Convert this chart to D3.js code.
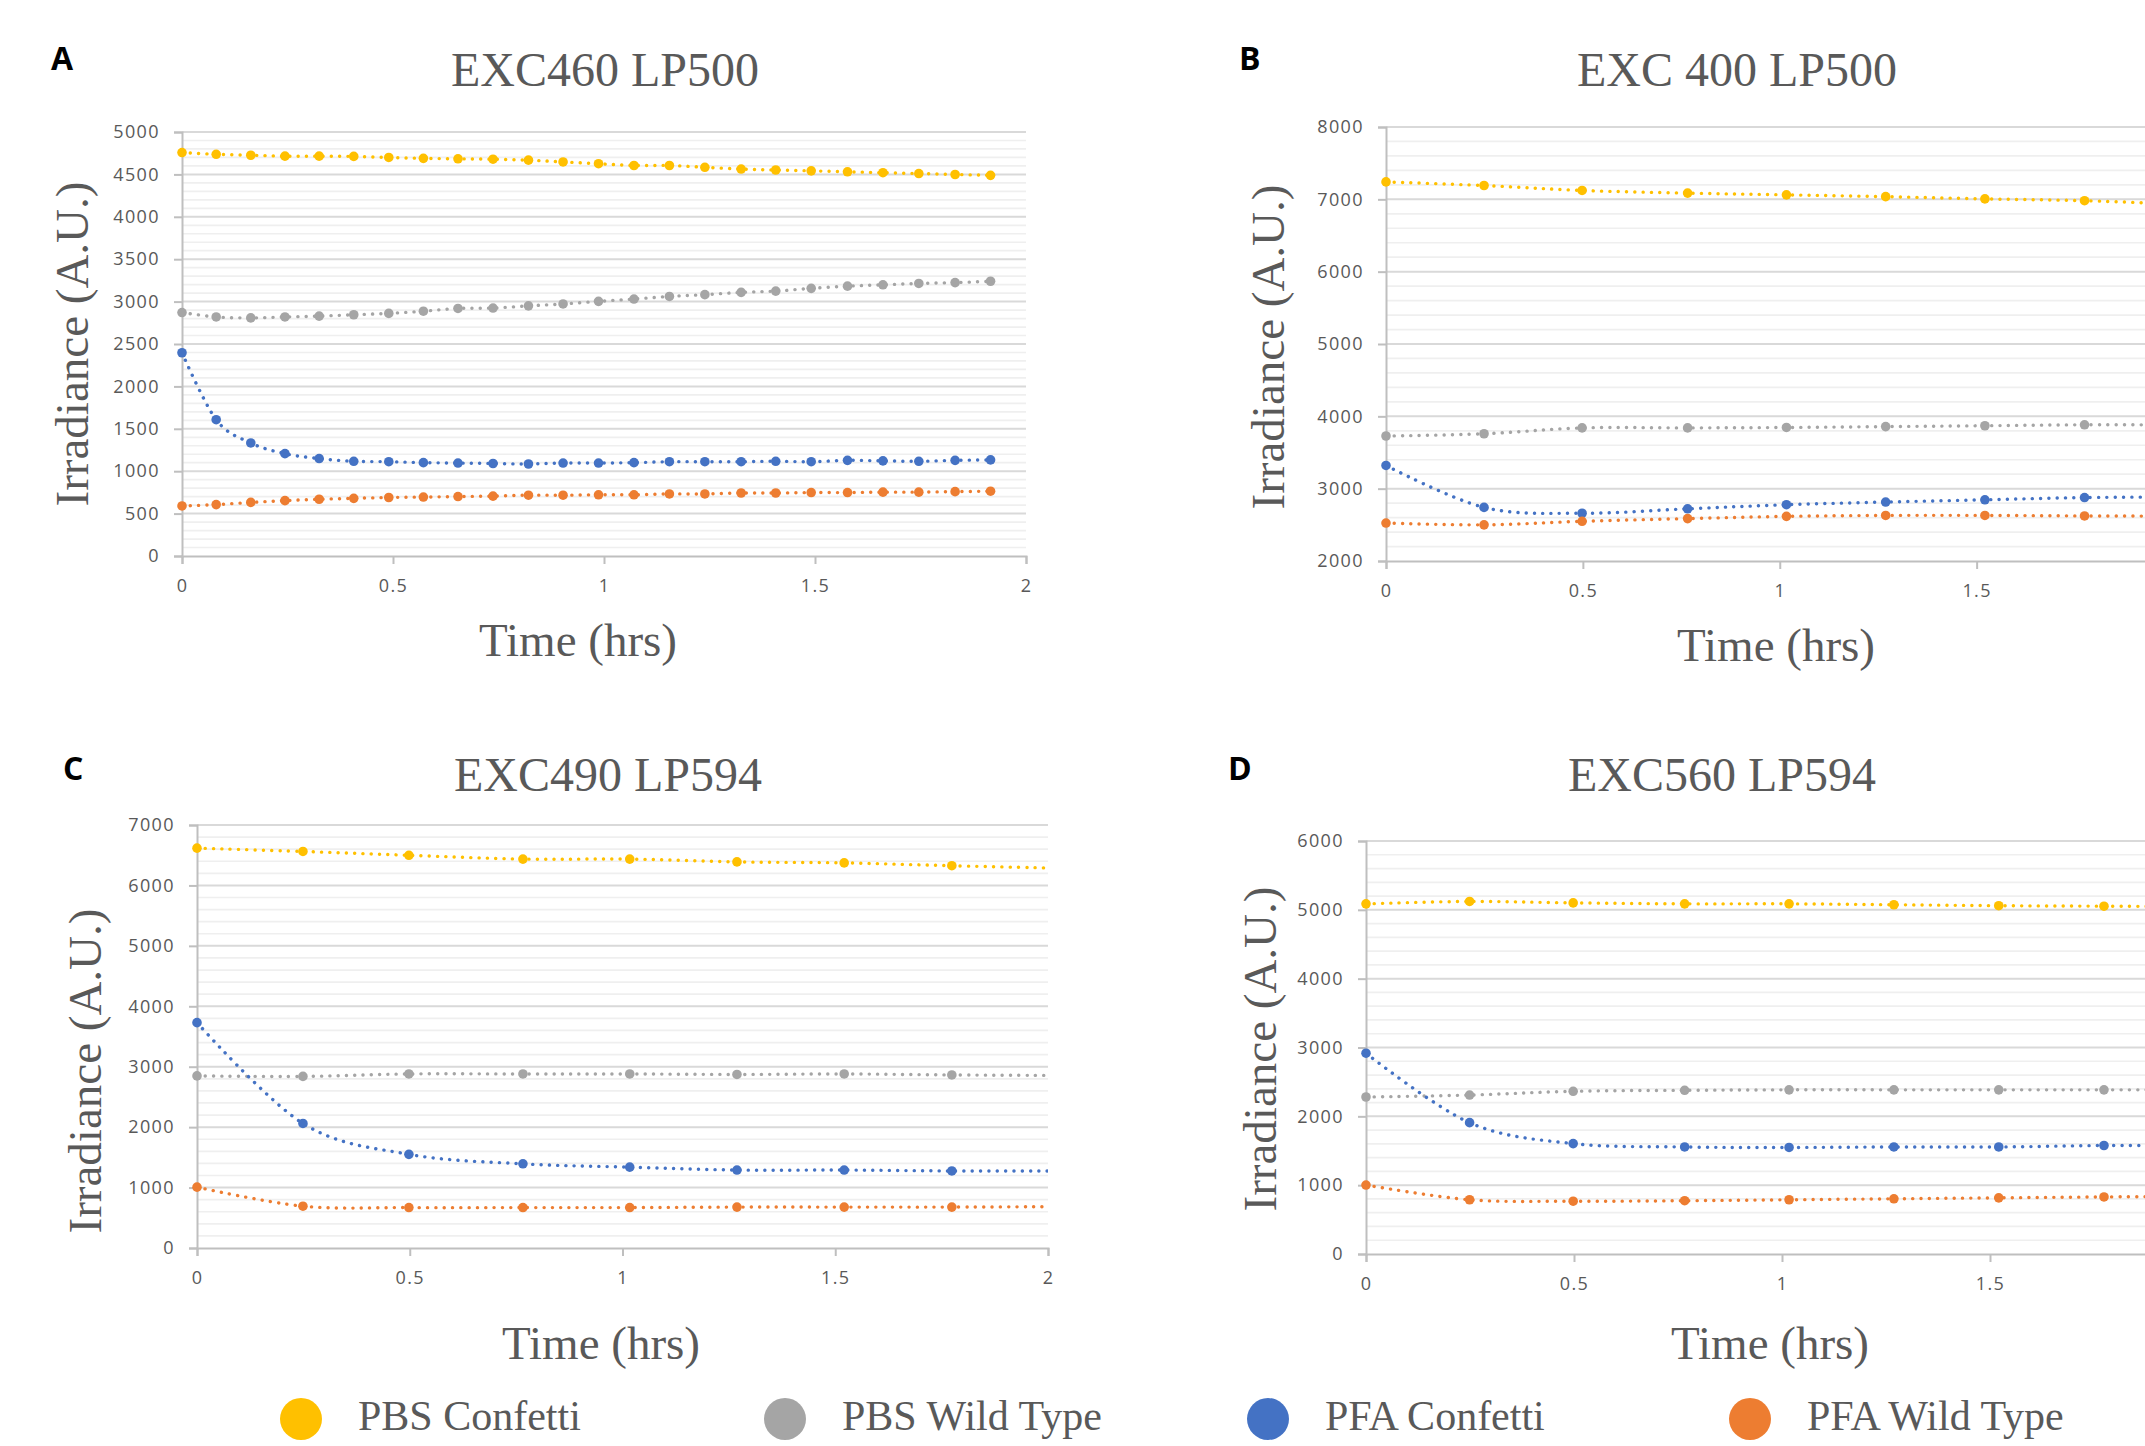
<!DOCTYPE html>
<html>
<head>
<meta charset="utf-8">
<script src="https://cdn.jsdelivr.net/npm/d3@7"></script>
<style>
  body { margin: 0; background: #fff; }
  svg { display: block; }
</style>
</head>
<body>
<svg id="chart" width="2145" height="1446"></svg>
<script>
// Series
const seriesNames = ["PBS Confetti", "PBS Wild Type", "PFA Confetti", "PFA Wild Type"];
const seriesColors = ["#FFC000", "#A5A5A5", "#4472C4", "#ED7D31"];

// Panel A: EXC460 LP500 (5 min sampling)
const timeA = [0, 0.081, 0.163, 0.244, 0.325, 0.407, 0.49, 0.572, 0.654, 0.737, 0.821, 0.903,
  0.987, 1.071, 1.155, 1.239, 1.325, 1.407, 1.491, 1.577, 1.661, 1.746, 1.832, 1.916];
const pbsConfettiA = [4758, 4737, 4726, 4715, 4715, 4712, 4700, 4689, 4684, 4679, 4668, 4647,
  4626, 4605, 4605, 4584, 4563, 4552, 4542, 4531, 4520, 4510, 4499, 4489];
const pbsWildA = [2871, 2819, 2808, 2819, 2829, 2845, 2861, 2887, 2919, 2924, 2950, 2972,
  3003, 3030, 3061, 3082, 3109, 3124, 3156, 3182, 3198, 3214, 3224, 3240];
const pfaConfettiA = [2397, 1607, 1333, 1207, 1149, 1117, 1112, 1101, 1096, 1091, 1085, 1096,
  1096, 1101, 1112, 1112, 1112, 1117, 1112, 1128, 1122, 1117, 1128, 1133];
const pfaWildA = [590, 606, 632, 653, 669, 680, 690, 695, 701, 706, 717, 717,
  722, 722, 732, 732, 743, 743, 748, 748, 753, 753, 759, 764];

// Panels B, C, D (15 min sampling)
const timeBCD = [0, 0.249, 0.498, 0.766, 1.017, 1.269, 1.521, 1.774, 2.026];

const pbsConfettiB = [7241, 7191, 7123, 7086, 7062, 7037, 7006, 6981, 6930];
const pbsWildB = [3728, 3759, 3840, 3840, 3846, 3858, 3870, 3883, 3880];
const pfaConfettiB = [3321, 2741, 2660, 2722, 2778, 2815, 2846, 2877, 2885];
const pfaWildB = [2525, 2500, 2549, 2586, 2617, 2630, 2630, 2623, 2620];

const pbsConfettiC = [6617, 6562, 6499, 6436, 6436, 6389, 6373, 6326, 6285];
const pbsWildC = [2848, 2840, 2880, 2880, 2880, 2872, 2880, 2864, 2855];
const pfaConfettiC = [3729, 2061, 1550, 1393, 1338, 1290, 1290, 1275, 1275];
const pfaWildC = [1007, 692, 669, 669, 669, 677, 677, 677, 685];

const pbsConfettiD = [5087, 5122, 5101, 5087, 5087, 5074, 5060, 5053, 5045];
const pbsWildD = [2281, 2309, 2364, 2378, 2385, 2385, 2385, 2385, 2385];
const pfaConfettiD = [2917, 1908, 1604, 1555, 1548, 1555, 1555, 1576, 1575];
const pfaWildD = [1002, 788, 767, 774, 788, 802, 816, 829, 840];

// Axis ticks
const xTicks = [0, 0.5, 1, 1.5, 2];
const yTicksA = [0, 500, 1000, 1500, 2000, 2500, 3000, 3500, 4000, 4500, 5000];
const yTicksB = [2000, 3000, 4000, 5000, 6000, 7000, 8000];
const yTicksC = [0, 1000, 2000, 3000, 4000, 5000, 6000, 7000];
const yTicksD = [0, 1000, 2000, 3000, 4000, 5000, 6000];

const W = 2145, H = 1446;

const panels = [
  { letter: "A", title: "EXC460 LP500", time: timeA,
    series: [pbsConfettiA, pbsWildA, pfaConfettiA, pfaWildA],
    yTicks: yTicksA, minorStep: 100,
    x0: 182, x1: 1026, yTop: 132, yBot: 556,
    titleX: 605, titleY: 86, letterX: 51, letterY: 70,
    yLabX: 88, yLabY: 344, xLabX: 578, xLabY: 656 },
  { letter: "B", title: "EXC 400 LP500", time: timeBCD,
    series: [pbsConfettiB, pbsWildB, pfaConfettiB, pfaWildB],
    yTicks: yTicksB, minorStep: 200,
    x0: 1386, x1: 2173.5, yTop: 127, yBot: 561,
    titleX: 1737, titleY: 86, letterX: 1239, letterY: 70,
    yLabX: 1284, yLabY: 347, xLabX: 1776, xLabY: 661 },
  { letter: "C", title: "EXC490 LP594", time: timeBCD,
    series: [pbsConfettiC, pbsWildC, pfaConfettiC, pfaWildC],
    yTicks: yTicksC, minorStep: 200,
    x0: 197, x1: 1048, yTop: 825, yBot: 1248,
    titleX: 608, titleY: 791, letterX: 63, letterY: 780,
    yLabX: 101, yLabY: 1071, xLabX: 601, xLabY: 1359 },
  { letter: "D", title: "EXC560 LP594", time: timeBCD,
    series: [pbsConfettiD, pbsWildD, pfaConfettiD, pfaWildD],
    yTicks: yTicksD, minorStep: 200,
    x0: 1366, x1: 2198, yTop: 841, yBot: 1254,
    titleX: 1722, titleY: 791, letterX: 1228, letterY: 780,
    yLabX: 1276, yLabY: 1049, xLabX: 1770, xLabY: 1359 }
];

const textColor = "#595959";
const serif = "'Liberation Serif', 'Times New Roman', serif";
const tickFont = "'Open Sans', sans-serif";

const svg = d3.select("#chart");
svg.append("rect").attr("width", W).attr("height", H).attr("fill", "#fff");

panels.forEach((p, pi) => {
  const yMin = p.yTicks[0];
  const yMax = p.yTicks[p.yTicks.length - 1];

  const x = d3.scaleLinear().domain([0, 2]).range([p.x0, p.x1]);
  const y = d3.scaleLinear().domain([yMin, yMax]).range([p.yBot, p.yTop]);

  const g = svg.append("g").attr("class", "panel");

  // Clip to plot area
  const clipId = "clip" + pi;
  svg.append("clipPath").attr("id", clipId)
    .append("rect")
    .attr("x", p.x0 - 8).attr("y", p.yTop - 8)
    .attr("width", p.x1 - p.x0 + 8).attr("height", p.yBot - p.yTop + 16);

  // Minor gridlines
  const minor = d3.range(yMin, yMax, p.minorStep).filter(v => !p.yTicks.includes(v));
  g.append("g").selectAll("line").data(minor).join("line")
    .attr("x1", p.x0).attr("x2", Math.min(p.x1, W))
    .attr("y1", d => y(d)).attr("y2", d => y(d))
    .attr("stroke", "#efefef").attr("stroke-width", 1.7);

  // Major gridlines
  g.append("g").selectAll("line").data(p.yTicks.slice(1)).join("line")
    .attr("x1", p.x0).attr("x2", Math.min(p.x1, W))
    .attr("y1", d => y(d)).attr("y2", d => y(d))
    .attr("stroke", "#d9d9d9").attr("stroke-width", 2);

  // Y axis
  const yAxis = g.append("g")
    .attr("transform", `translate(${p.x0},0)`)
    .call(d3.axisLeft(y).tickValues(p.yTicks).tickSize(8).tickPadding(14).tickFormat(d3.format("d")));
  yAxis.select(".domain").attr("stroke", "#bfbfbf").attr("stroke-width", 2);
  yAxis.selectAll(".tick line").attr("stroke", "#bfbfbf").attr("stroke-width", 2);
  yAxis.selectAll("text")
    .attr("fill", textColor)
    .style("font-family", tickFont)
    .style("font-size", "18px")
    .style("letter-spacing", "1.4px");

  // X axis (only the ticks that fall inside the page)
  const xAxis = g.append("g")
    .attr("transform", `translate(0,${p.yBot})`)
    .call(d3.axisBottom(x)
      .tickValues(xTicks.filter(t => x(t) < W - 4))
      .tickSize(8).tickPadding(15).tickFormat(d => d));
  xAxis.select(".domain").attr("stroke", "#bfbfbf").attr("stroke-width", 2);
  xAxis.selectAll(".tick line").attr("stroke", "#bfbfbf").attr("stroke-width", 2);
  xAxis.selectAll("text")
    .attr("fill", textColor)
    .style("font-family", tickFont)
    .style("font-size", "18px")
    .style("letter-spacing", "1.4px");

  // Series lines and markers
  const line = d3.line()
    .x(d => x(d[0]))
    .y(d => y(d[1]))
    .curve(d3.curveCardinal.tension(0));

  const plot = g.append("g").attr("clip-path", `url(#${clipId})`);

  p.series.forEach((vals, si) => {
    const pts = p.time.map((t, i) => [t, vals[i]]);
    plot.append("path")
      .attr("d", line(pts))
      .attr("fill", "none")
      .attr("stroke", seriesColors[si])
      .attr("stroke-width", 3.4)
      .attr("stroke-linecap", "round")
      .attr("stroke-dasharray", "0.1 8.2");
    plot.append("g").selectAll("circle").data(pts.filter(d => d[0] <= 2)).join("circle")
      .attr("cx", d => x(d[0]))
      .attr("cy", d => y(d[1]))
      .attr("r", 4.8)
      .attr("fill", seriesColors[si]);
  });

  // Title
  svg.append("text")
    .attr("x", p.titleX).attr("y", p.titleY)
    .attr("text-anchor", "middle")
    .style("font-family", serif)
    .style("font-size", "48px")
    .attr("fill", textColor)
    .text(p.title);

  // Panel letter
  svg.append("text")
    .attr("x", p.letterX).attr("y", p.letterY)
    .style("font-family", "'Open Sans', sans-serif")
    .style("font-weight", 700)
    .style("font-size", "32px")
    .attr("fill", "#000")
    .text(p.letter);

  // Axis titles
  svg.append("text")
    .attr("transform", `translate(${p.yLabX},${p.yLabY}) rotate(-90)`)
    .attr("text-anchor", "middle")
    .style("font-family", serif)
    .style("font-size", "47px")
    .attr("fill", textColor)
    .text("Irradiance (A.U.)");

  svg.append("text")
    .attr("x", p.xLabX).attr("y", p.xLabY)
    .attr("text-anchor", "middle")
    .style("font-family", serif)
    .style("font-size", "47px")
    .attr("fill", textColor)
    .text("Time (hrs)");
});

// Legend
const legendX = [301, 785, 1268, 1750];
const legend = svg.append("g").attr("class", "legend");
seriesNames.forEach((name, i) => {
  legend.append("circle")
    .attr("cx", legendX[i]).attr("cy", 1419).attr("r", 21)
    .attr("fill", seriesColors[i]);
  legend.append("text")
    .attr("x", legendX[i] + 57).attr("y", 1430)
    .style("font-family", serif)
    .style("font-size", "42px")
    .attr("fill", textColor)
    .text(name);
});
</script>
</body>
</html>
